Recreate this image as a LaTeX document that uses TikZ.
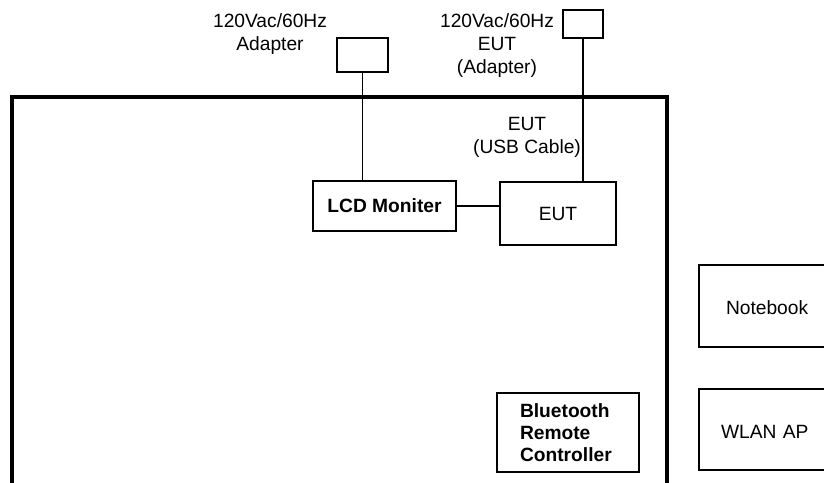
\documentclass[tikz,border=0pt]{standalone}
\usepackage{fontspec}
\setmainfont{Liberation Sans}
\begin{document}
\begin{tikzpicture}[x=0.5pt, y=-0.5pt,
  every node/.style={font=\fontsize{9.6}{11.5}\selectfont},
  box/.style={draw, line width=1pt, inner sep=0pt},
  wire/.style={line width=0.8pt},
  frame/.style={line width=2.2pt}]
		\useasboundingbox (0,0) rectangle (824,482);
		\clip (0,0) rectangle (824,482);
		
		\draw[frame] (12,500) -- (12,97) -- (667,97) -- (667,500);
		
		\node[box, minimum width=25.5pt, minimum height=17pt] (adpA) at (362.5,55) {};
		\node[box, minimum width=20pt, minimum height=14pt] (adpB) at (583,24) {};
		\node[align=center] (lblA) at (270,34) {120Vac/60Hz\\Adapter};
		\node[align=center] (lblB) at (497,46) {120Vac/60Hz\\EUT\\(Adapter)};
		\node[align=center] (lblUSB) at (527,137) {EUT\\(USB Cable)};
		
		\node[box, minimum width=71.5pt, minimum height=25pt, font=\fontsize{9.6}{11.5}\selectfont\bfseries] (lcd) at (384.5,206) {LCD Moniter};
		\node[box, minimum width=58pt, minimum height=31.5pt] (eut) at (558,213.5) {EUT};
		\node[box, minimum height=39.5pt, inner xsep=11.5pt, text width=48pt, align=left, font=\fontsize{9.6}{11}\selectfont\bfseries] (bt) at (568,432.5) {Bluetooth\\Remote\\Controller};
		\node[box, minimum height=41pt, inner xsep=13.5pt, text width=44pt, text height=10.9pt, text depth=2pt, align=left, anchor=west] (nb) at (698,306) {Notebook};
		\node[box, minimum height=40.5pt, inner xsep=11pt, text width=49pt, text height=10.9pt, text depth=2pt, align=left, anchor=west] (wlan) at (698,429.5) {WLAN AP};
		
		\draw[wire] (adpA.south) -- (adpA.south |- lcd.north);
		\draw[wire] (adpB.south) -- (adpB.south |- eut.north);
		\draw[wire] (lcd.east) -- (eut.west |- lcd.east);
\end{tikzpicture}
\end{document}
